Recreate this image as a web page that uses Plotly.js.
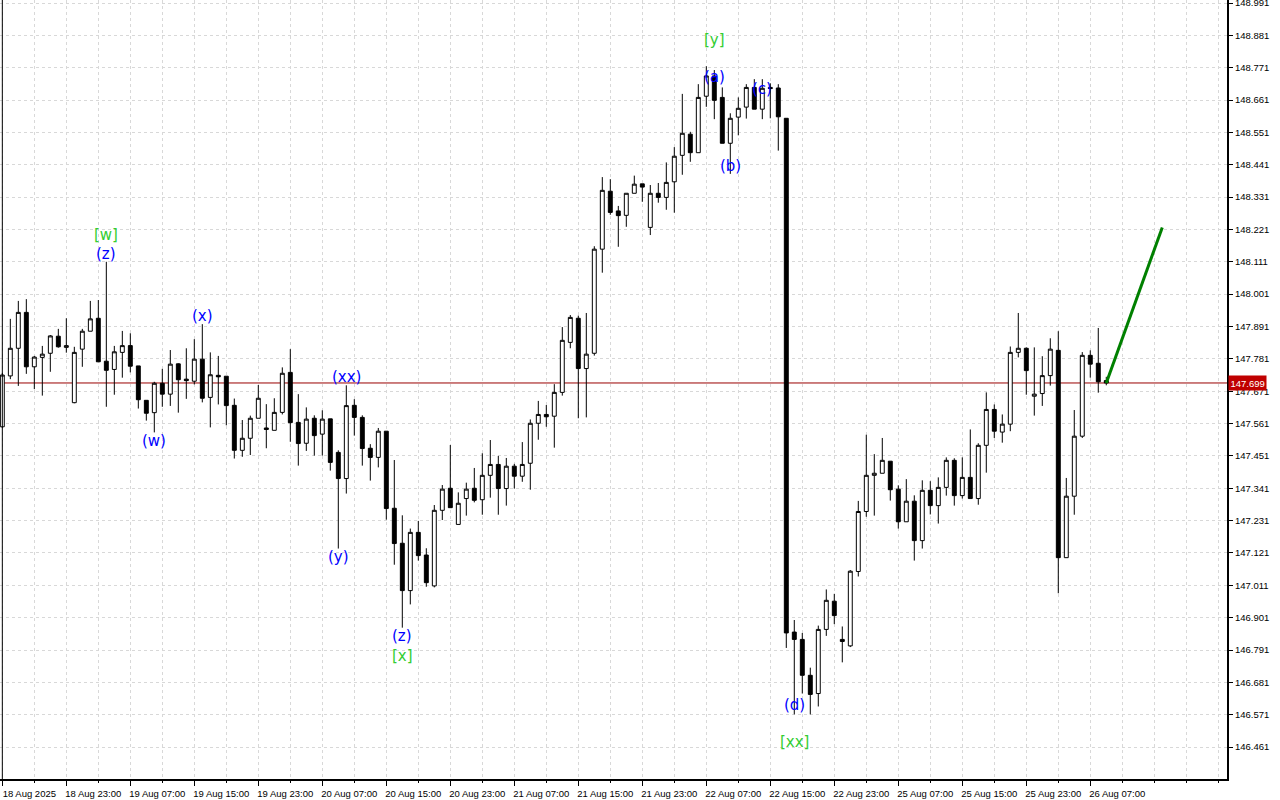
<!DOCTYPE html>
<html>
<head>
<meta charset="utf-8">
<script src="https://cdn.plot.ly/plotly-3.0.1.min.js"></script>
<style>html,body{margin:0;padding:0;background:#fff;}#chart{width:1280px;height:800px;}</style>
</head>
<body>
<div id="chart"></div>
<script>
// ---- Data (hourly candles) ----
const openP = [147.550,147.723,147.817,147.939,147.754,147.786,147.800,147.858,147.820,147.632,
147.814,147.875,147.919,147.773,147.745,147.803,147.826,147.757,147.640,147.598,
147.698,147.661,147.764,147.712,147.705,147.780,147.650,147.725,147.722,147.623,
147.470,147.511,147.579,147.546,147.538,147.599,147.735,147.565,147.494,147.579,
147.525,147.577,147.463,147.374,147.623,147.582,147.477,147.446,147.535,147.273,
147.154,146.993,147.191,147.114,147.009,147.266,147.341,147.218,147.306,147.341,
147.302,147.385,147.422,147.340,147.416,147.382,147.426,147.562,147.592,147.586,
147.667,147.837,147.919,147.748,147.800,148.154,148.351,148.284,148.269,148.344,
148.376,148.228,148.344,148.330,148.383,148.473,148.545,148.482,148.674,148.743,
148.670,148.514,148.603,148.637,148.704,148.630,148.704,148.702,148.599,146.852,
146.827,146.705,146.643,146.861,146.957,146.827,146.805,147.058,147.262,147.385,
147.392,147.433,147.338,147.227,147.297,147.163,147.334,147.282,147.344,147.436,
147.316,147.378,147.306,147.487,147.609,147.532,147.559,147.803,147.817,147.654,
147.663,147.724,147.810,147.105,147.314,147.518,147.793,147.766,147.707];
const highP = [147.733,147.917,147.978,147.984,147.791,147.825,147.862,147.883,147.919,147.822,
147.883,147.978,147.981,148.111,147.825,147.876,147.868,147.757,147.640,147.703,
147.747,147.811,147.766,147.817,147.848,147.899,147.803,147.791,147.722,147.646,
147.573,147.588,147.692,147.627,147.647,147.752,147.814,147.661,147.616,147.589,
147.606,147.577,147.470,147.691,147.644,147.589,147.491,147.546,147.535,147.437,
147.249,147.204,147.230,147.137,147.284,147.352,147.488,147.327,147.360,147.410,
147.460,147.505,147.451,147.444,147.424,147.498,147.575,147.638,147.624,147.695,
147.889,147.930,147.928,147.937,148.164,148.399,148.392,148.301,148.344,148.404,
148.376,148.372,148.379,148.449,148.501,148.682,148.553,148.715,148.776,148.763,
148.704,148.616,148.670,148.715,148.732,148.732,148.718,148.715,148.599,146.893,
146.849,146.731,146.874,146.997,146.982,146.871,147.063,147.298,147.523,147.457,
147.512,147.433,147.351,147.372,147.317,147.368,147.365,147.378,147.446,147.443,
147.446,147.541,147.494,147.667,147.626,147.592,147.823,147.937,147.820,147.820,
147.790,147.851,147.875,147.376,147.607,147.804,147.810,147.886,147.720];
const lowP = [147.546,147.712,147.689,147.730,147.678,147.656,147.737,147.819,147.802,147.630,
147.754,147.875,147.771,147.618,147.659,147.717,147.735,147.612,147.571,147.531,
147.618,147.621,147.598,147.645,147.694,147.633,147.548,147.626,147.555,147.442,
147.448,147.454,147.579,147.477,147.538,147.592,147.499,147.418,147.468,147.452,
147.452,147.401,147.136,147.323,147.520,147.418,147.367,147.412,147.234,147.081,
146.867,146.946,147.095,147.006,147.004,147.233,147.275,147.218,147.248,147.293,
147.251,147.309,147.251,147.282,147.340,147.363,147.336,147.506,147.550,147.479,
147.656,147.817,147.579,147.582,147.792,148.074,148.271,148.162,148.230,148.344,
148.315,148.202,148.312,148.288,148.278,148.407,148.451,148.482,148.638,148.596,
148.514,148.410,148.541,148.598,148.630,148.596,148.599,148.489,146.798,146.572,
146.643,146.572,146.599,146.839,146.879,146.749,146.801,147.041,147.244,147.248,
147.392,147.299,147.204,147.227,147.095,147.136,147.252,147.221,147.316,147.282,
147.306,147.306,147.285,147.394,147.512,147.496,147.535,147.786,147.659,147.588,
147.621,147.690,146.984,147.105,147.251,147.512,147.717,147.666,147.691];
const closeP = [147.726,147.817,147.939,147.754,147.787,147.797,147.859,147.822,147.826,147.803,
147.875,147.917,147.771,147.742,147.805,147.826,147.756,147.642,147.596,147.698,
147.661,147.763,147.710,147.707,147.780,147.647,147.727,147.720,147.622,147.470,
147.511,147.579,147.647,147.541,147.599,147.732,147.564,147.493,147.576,147.520,
147.576,147.429,147.374,147.622,147.582,147.476,147.446,147.535,147.272,147.153,
146.993,147.191,147.112,147.020,147.266,147.338,147.275,147.290,147.338,147.300,
147.385,147.422,147.340,147.416,147.382,147.422,147.562,147.592,147.584,147.667,
147.844,147.922,147.748,147.797,148.154,148.354,148.279,148.268,148.344,148.375,
148.365,148.344,148.330,148.381,148.470,148.548,148.482,148.670,148.743,148.660,
148.514,148.599,148.633,148.704,148.630,148.701,148.700,148.604,146.849,146.827,
146.705,146.640,146.861,146.960,146.908,146.820,147.059,147.262,147.385,147.392,
147.436,147.336,147.227,147.297,147.163,147.334,147.282,147.344,147.436,147.316,
147.378,147.306,147.487,147.609,147.535,147.559,147.803,147.817,147.741,147.661,
147.724,147.814,147.105,147.314,147.518,147.793,147.763,147.703,147.699];

// time axis labels (every 8 bars)
const timeLabels = ['18 Aug 2025','18 Aug 23:00','19 Aug 07:00','19 Aug 15:00','19 Aug 23:00',
'20 Aug 07:00','20 Aug 15:00','20 Aug 23:00','21 Aug 07:00','21 Aug 15:00','21 Aug 23:00',
'22 Aug 07:00','22 Aug 15:00','22 Aug 23:00','25 Aug 07:00','25 Aug 15:00','25 Aug 23:00','26 Aug 07:00'];
const timeLabelBars = [0,8,16,24,32,40,48,56,64,72,80,88,96,104,112,120,128,136];

// price axis ticks
const priceTicks = [146.461,146.571,146.681,146.791,146.901,147.011,147.121,147.231,147.341,147.451,
147.561,147.671,147.781,147.891,148.001,148.111,148.221,148.331,148.441,148.551,148.661,148.771,148.881,148.991];

const currentPrice = 147.699;

// forecast line (bar index, price)
const forecastBars = [138, 145];
const forecastPrices = [147.699, 148.228];

// wave labels
const waveText  = ['[w]','(z)','(x)','(w)','(xx)','(y)','(z)','[x]','[y]','(a)','(b)','(c)','(d)','[xx]'];
const waveBar   = [13, 13, 25, 19, 43, 42, 50, 50, 89, 89, 91, 95, 99, 99];
const wavePrice = [148.202,148.138,147.927,147.502,147.719,147.107,146.839,146.771,148.865,148.739,148.437,148.699,146.604,146.478];
const waveKind  = ['major','minor','minor','minor','minor','minor','minor','major','major','minor','minor','minor','minor','major'];

// ---- Build chart ----
const bars = openP.map((_, i) => i);
const axisFont = {family:'Liberation Sans, Arial, sans-serif', size:9.5, color:'#000'};
const gridCol = '#d8d8d8';

const traces = [
  {
    type:'candlestick', x:bars, open:openP, high:highP, low:lowP, close:closeP,
    increasing:{line:{color:'#000', width:1}, fillcolor:'#ffffff'},
    decreasing:{line:{color:'#000', width:1}, fillcolor:'#000000'},
    whiskerwidth:0, hoverinfo:'skip', showlegend:false
  },
  {
    type:'scatter', mode:'lines', x:forecastBars, y:forecastPrices,
    line:{color:'#008000', width:3}, hoverinfo:'skip', showlegend:false
  }
];

const annotations = waveText.map((t, i) => ({
  x: waveBar[i], y: wavePrice[i], xref:'x', yref:'y', text:t, showarrow:false,
  xanchor:'center', yanchor:'middle',
  font:{family:'DejaVu Sans, Verdana, sans-serif', size:15, color: waveKind[i]==='major' ? '#32cd32' : '#0000ff'}
}));
annotations.push({
  xref:'paper', x:1, xanchor:'left', xshift:1, yref:'y', y:currentPrice, yanchor:'middle',
  text: currentPrice.toFixed(3), showarrow:false, bgcolor:'#c00000', borderpad:1.5,
  font:{family:'Liberation Sans, Arial, sans-serif', size:9.5, color:'#ffffff'}
});

const layout = {
  width:1280, height:800,
  margin:{l:0, r:53, t:0, b:21, pad:0},
  paper_bgcolor:'#ffffff', plot_bgcolor:'#ffffff',
  showlegend:false,
  xaxis:{
    range:[-0.29, 153.09], tickmode:'array', tickvals:timeLabelBars, ticktext:timeLabels,
    ticks:'outside', ticklen:5, tickcolor:'#000', tickwidth:1,
    showline:true, linecolor:'#000', linewidth:2,
    showgrid:true, gridcolor:gridCol, griddash:'3px,3px', gridwidth:1,
    zeroline:false, rangeslider:{visible:false}, fixedrange:true,
    tickfont:axisFont, ticklabelshift:27, tickangle:0,
    minor:{tickmode:'linear', tick0:0, dtick:4, ticks:'outside', ticklen:2, tickcolor:'#000',
           showgrid:true, gridcolor:gridCol, griddash:'3px,3px', gridwidth:1}
  },
  yaxis:{
    side:'right', range:[146.3524, 149.0012], tickmode:'array', tickvals:priceTicks,
    ticktext:priceTicks.map(v => v.toFixed(3)),
    ticks:'outside', ticklen:4, tickcolor:'#000', tickwidth:1,
    showline:true, linecolor:'#000', linewidth:2,
    showgrid:true, gridcolor:gridCol, griddash:'3px,3px', gridwidth:1,
    zeroline:false, fixedrange:true, tickfont:axisFont, ticklabeloverflow:'allow'
  },
  shapes:[
    {type:'line', xref:'paper', x0:0, x1:1, yref:'y', y0:currentPrice, y1:currentPrice,
     line:{color:'#9a0000', width:1}, layer:'below'},
    {type:'line', xref:'x', x0:0, x1:0, yref:'paper', y0:0, y1:1,
     line:{color:'#000', width:1}, layer:'above'}
  ],
  annotations:annotations
};

Plotly.newPlot('chart', traces, layout, {staticPlot:true, displayModeBar:false});
</script>
</body>
</html>
